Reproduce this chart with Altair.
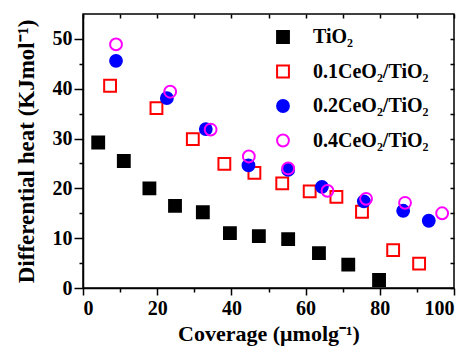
import altair as alt
import pandas as pd

series_names = ["TiO₂", "0.1CeO₂/TiO₂", "0.2CeO₂/TiO₂", "0.4CeO₂/TiO₂"]

tio2_x = [4.1, 11.0, 17.9, 24.8, 32.3, 39.6, 47.4, 55.3, 63.6, 71.5, 79.8]
tio2_y = [29.2, 25.5, 20.0, 16.5, 15.2, 11.0, 10.4, 9.8, 7.0, 4.7, 1.6]

ce01_x = [7.3, 19.8, 29.6, 38.1, 46.2, 53.7, 61.1, 68.3, 75.2, 83.6, 90.6]
ce01_y = [40.6, 36.1, 29.9, 24.9, 23.1, 21.0, 19.4, 18.3, 15.3, 7.6, 4.9]

ce02_x = [8.9, 22.6, 33.1, 44.6, 55.3, 64.4, 75.7, 86.3, 93.2]
ce02_y = [45.6, 38.1, 31.9, 24.6, 23.7, 20.3, 17.4, 15.5, 13.5]

ce04_x = [8.9, 23.5, 34.4, 44.7, 55.3, 65.9, 76.3, 86.8, 96.8]
ce04_y = [48.9, 39.4, 31.8, 26.4, 24.0, 19.5, 17.9, 17.1, 15.0]

x_ticks = [0, 10, 20, 30, 40, 50, 60, 70, 80, 90, 100]
y_ticks = [0, 5, 10, 15, 20, 25, 30, 35, 40, 45, 50]

rows = []
for name, xs, ys in zip(series_names, [tio2_x, ce01_x, ce02_x, ce04_x],
                        [tio2_y, ce01_y, ce02_y, ce04_y]):
    for xv, yv in zip(xs, ys):
        rows.append({"series": name, "x": xv, "y": yv})
df = pd.DataFrame(rows)

FONT = "Liberation Serif"
xs = alt.Scale(domain=[0, 100], nice=False, zero=False)
ys = alt.Scale(domain=[0, 55], nice=False, zero=False)

legend = alt.Legend(
    title=None, orient="none", legendX=190, legendY=13,
    labelFont=FONT, labelFontSize=20, labelFontWeight="bold", labelColor="black",
    rowPadding=14.5, labelOffset=20, symbolStrokeWidth=2, symbolSize=140,
)

points = alt.Chart(df).mark_point(strokeWidth=2, opacity=1, size=140).encode(
    x=alt.X("x:Q", scale=xs, axis=alt.Axis(
        values=x_ticks, title="Coverage (μmolg⁻¹)", grid=False,
        labelExpr="datum.value % 20 === 0 ? datum.label : ''",
        tickSize={"condition": {"test": "datum.value % 20 === 0", "value": 7}, "value": 4},
        tickColor="black", tickWidth=1.5, domainColor="black", domainWidth=1.5,
        labelFont=FONT, labelFontSize=20, labelFontWeight="bold", labelColor="black",
        titleFont=FONT, titleFontSize=22, titleFontWeight="bold", titleColor="black",
        labelPadding=3, titleBaseline="alphabetic", titleY=52)),
    y=alt.Y("y:Q", scale=ys, axis=alt.Axis(
        values=y_ticks, title="Differential heat (KJmol⁻¹)", grid=False,
        labelExpr="datum.value % 10 === 0 ? datum.label : ''",
        tickSize={"condition": {"test": "datum.value % 10 === 0", "value": 9}, "value": 4},
        tickColor="black", tickWidth=1.5, domainColor="black", domainWidth=1.5,
        labelFont=FONT, labelFontSize=20, labelFontWeight="bold", labelColor="black",
        titleFont=FONT, titleFontSize=23, titleFontWeight="bold", titleColor="black",
        labelPadding=2, titlePadding=14)),
    shape=alt.Shape("series:N", scale=alt.Scale(domain=series_names,
                    range=["square", "square", "circle", "circle"]), legend=legend),
    stroke=alt.Stroke("series:N", scale=alt.Scale(domain=series_names,
                      range=["black", "red", "blue", "magenta"]), legend=legend),
    fill=alt.Fill("series:N", scale=alt.Scale(domain=series_names,
                  range=["black", "transparent", "blue", "transparent"]), legend=legend),
)

frame = alt.Chart(df).mark_point(opacity=0).encode(
    x=alt.X("x:Q", scale=xs, axis=alt.Axis(
        orient="top", values=x_ticks, labels=False, title=None, domain=False,
        grid=False, tickSize=4, offset=-4, tickColor="black", tickWidth=1.5)),
    y=alt.Y("y:Q", scale=ys, axis=alt.Axis(
        orient="right", values=y_ticks, labels=False, title=None, domain=False,
        grid=False, tickSize=4, offset=-4, tickColor="black", tickWidth=1.5)),
)

chart = alt.layer(points, frame).resolve_axis(x="independent", y="independent").properties(
    width=371, height=274,
    autosize=alt.AutoSizeParams(type="none"),
    padding={"left": 75, "top": 6, "right": 8, "bottom": 59},
    background="white",
).configure_view(stroke="black", strokeWidth=1.5)

chart.save("out.html", embed_options={"renderer": "svg", "actions": False})
